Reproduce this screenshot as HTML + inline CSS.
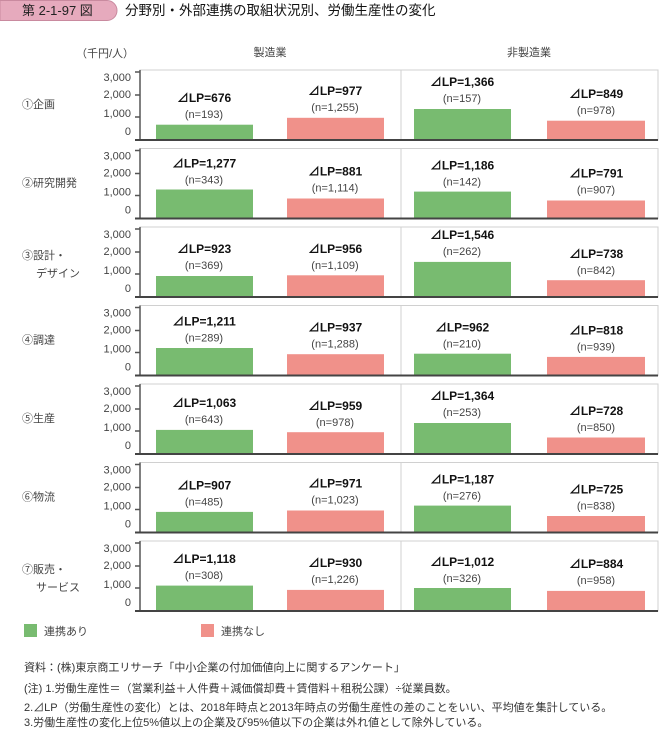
<!DOCTYPE html>
<html><head><meta charset="utf-8"><style>
body{margin:0;background:#fff;width:662px;height:729px;overflow:hidden}
svg{display:block;font-family:"Liberation Sans","Noto Sans CJK JP",sans-serif}
.t{font-size:11px;fill:#444}
.lp{font-size:12px;font-weight:bold;fill:#111;text-anchor:middle}
.n{font-size:11px;fill:#444;text-anchor:middle}
.yl{font-size:11px;fill:#444;text-anchor:end}
.g{fill:#78bb70}.r{fill:#f0918a}
</style></head><body>
<svg width="662" height="729" viewBox="0 0 662 729">
<path d="M0,0.5 H107 A10,10 0 0 1 107,20.5 H0 Z" fill="#e6aabd" stroke="#c98a9f"/>
<text x="22" y="15" font-size="13" fill="#222">第 2-1-97 図</text>
<text x="125" y="15" font-size="13.5" fill="#111">分野別・外部連携の取組状況別、労働生産性の変化</text>
<text x="76" y="57" class="t">（千円/人）</text>
<text x="270" y="56" class="t" text-anchor="middle">製造業</text>
<text x="529" y="56" class="t" text-anchor="middle">非製造業</text>

<defs>
<g id="ax">
<rect x="140" y="-70" width="518" height="70" fill="none" stroke="#d0d0d0"/>
<line x1="401" y1="-70" x2="401" y2="0" stroke="#d0d0d0"/>
<line x1="140" y1="-70" x2="140" y2="0" stroke="#555" stroke-width="1.5"/>
<path d="M135,-68H140M135,-45H140M135,-23H140" stroke="#555" stroke-width="1.5"/>
<text x="131" y="-59" class="yl">3,000</text>
<text x="131" y="-42" class="yl">2,000</text>
<text x="131" y="-23" class="yl">1,000</text>
<text x="131" y="-5" class="yl">0</text>
</g>
</defs>

<g transform="translate(0,140)"><use href="#ax"/>
<text x="22" y="-32" class="t" font-size="12">①企画</text>
<rect x="156" y="-15.3" width="97" height="15.3" class="g"/><text x="204" y="-38" class="lp">⊿LP=676</text><text x="204" y="-22" class="n">(n=193)</text>
<rect x="287" y="-22.2" width="97" height="22.2" class="r"/><text x="335" y="-45" class="lp">⊿LP=977</text><text x="335" y="-29" class="n">(n=1,255)</text>
<rect x="414" y="-31" width="97" height="31" class="g"/><text x="462" y="-54" class="lp">⊿LP=1,366</text><text x="462" y="-38" class="n">(n=157)</text>
<rect x="547" y="-19.3" width="98" height="19.3" class="r"/><text x="596" y="-42" class="lp">⊿LP=849</text><text x="596" y="-26" class="n">(n=978)</text>
<line x1="135" y1="0" x2="658" y2="0" stroke="#444" stroke-width="2"/></g>

<g transform="translate(0,218.5)"><use href="#ax"/>
<text x="22" y="-32" class="t" font-size="12">②研究開発</text>
<rect x="156" y="-29" width="97" height="29" class="g"/><text x="204" y="-51" class="lp">⊿LP=1,277</text><text x="204" y="-35" class="n">(n=343)</text>
<rect x="287" y="-20" width="97" height="20" class="r"/><text x="335" y="-43" class="lp">⊿LP=881</text><text x="335" y="-27" class="n">(n=1,114)</text>
<rect x="414" y="-26.9" width="97" height="26.9" class="g"/><text x="462" y="-49" class="lp">⊿LP=1,186</text><text x="462" y="-33" class="n">(n=142)</text>
<rect x="547" y="-18" width="98" height="18" class="r"/><text x="596" y="-41" class="lp">⊿LP=791</text><text x="596" y="-25" class="n">(n=907)</text>
<line x1="135" y1="0" x2="658" y2="0" stroke="#444" stroke-width="2"/></g>

<g transform="translate(0,297)"><use href="#ax"/>
<text x="22" y="-38" class="t" font-size="12">③設計・</text><text x="36" y="-20" class="t" font-size="12">デザイン</text>
<rect x="156" y="-21" width="97" height="21" class="g"/><text x="204" y="-44" class="lp">⊿LP=923</text><text x="204" y="-28" class="n">(n=369)</text>
<rect x="287" y="-21.7" width="97" height="21.7" class="r"/><text x="335" y="-44" class="lp">⊿LP=956</text><text x="335" y="-28" class="n">(n=1,109)</text>
<rect x="414" y="-35.1" width="97" height="35.1" class="g"/><text x="462" y="-58" class="lp">⊿LP=1,546</text><text x="462" y="-42" class="n">(n=262)</text>
<rect x="547" y="-16.8" width="98" height="16.8" class="r"/><text x="596" y="-39" class="lp">⊿LP=738</text><text x="596" y="-23" class="n">(n=842)</text>
<line x1="135" y1="0" x2="658" y2="0" stroke="#444" stroke-width="2"/></g>

<g transform="translate(0,375.5)"><use href="#ax"/>
<text x="22" y="-32" class="t" font-size="12">④調達</text>
<rect x="156" y="-27.5" width="97" height="27.5" class="g"/><text x="204" y="-50" class="lp">⊿LP=1,211</text><text x="204" y="-34" class="n">(n=289)</text>
<rect x="287" y="-21.3" width="97" height="21.3" class="r"/><text x="335" y="-44" class="lp">⊿LP=937</text><text x="335" y="-28" class="n">(n=1,288)</text>
<rect x="414" y="-21.8" width="97" height="21.8" class="g"/><text x="462" y="-44" class="lp">⊿LP=962</text><text x="462" y="-28" class="n">(n=210)</text>
<rect x="547" y="-18.6" width="98" height="18.6" class="r"/><text x="596" y="-41" class="lp">⊿LP=818</text><text x="596" y="-25" class="n">(n=939)</text>
<line x1="135" y1="0" x2="658" y2="0" stroke="#444" stroke-width="2"/></g>

<g transform="translate(0,454)"><use href="#ax"/>
<text x="22" y="-32" class="t" font-size="12">⑤生産</text>
<rect x="156" y="-24.1" width="97" height="24.1" class="g"/><text x="204" y="-47" class="lp">⊿LP=1,063</text><text x="204" y="-31" class="n">(n=643)</text>
<rect x="287" y="-21.8" width="97" height="21.8" class="r"/><text x="335" y="-44" class="lp">⊿LP=959</text><text x="335" y="-28" class="n">(n=978)</text>
<rect x="414" y="-31" width="97" height="31" class="g"/><text x="462" y="-54" class="lp">⊿LP=1,364</text><text x="462" y="-38" class="n">(n=253)</text>
<rect x="547" y="-16.5" width="98" height="16.5" class="r"/><text x="596" y="-39" class="lp">⊿LP=728</text><text x="596" y="-23" class="n">(n=850)</text>
<line x1="135" y1="0" x2="658" y2="0" stroke="#444" stroke-width="2"/></g>

<g transform="translate(0,532.5)"><use href="#ax"/>
<text x="22" y="-32" class="t" font-size="12">⑥物流</text>
<rect x="156" y="-20.6" width="97" height="20.6" class="g"/><text x="204" y="-43" class="lp">⊿LP=907</text><text x="204" y="-27" class="n">(n=485)</text>
<rect x="287" y="-22" width="97" height="22" class="r"/><text x="335" y="-45" class="lp">⊿LP=971</text><text x="335" y="-29" class="n">(n=1,023)</text>
<rect x="414" y="-26.9" width="97" height="26.9" class="g"/><text x="462" y="-49" class="lp">⊿LP=1,187</text><text x="462" y="-33" class="n">(n=276)</text>
<rect x="547" y="-16.5" width="98" height="16.5" class="r"/><text x="596" y="-39" class="lp">⊿LP=725</text><text x="596" y="-23" class="n">(n=838)</text>
<line x1="135" y1="0" x2="658" y2="0" stroke="#444" stroke-width="2"/></g>

<g transform="translate(0,611)"><use href="#ax"/>
<text x="22" y="-38" class="t" font-size="12">⑦販売・</text><text x="36" y="-20" class="t" font-size="12">サービス</text>
<rect x="156" y="-25.4" width="97" height="25.4" class="g"/><text x="204" y="-48" class="lp">⊿LP=1,118</text><text x="204" y="-32" class="n">(n=308)</text>
<rect x="287" y="-21.1" width="97" height="21.1" class="r"/><text x="335" y="-44" class="lp">⊿LP=930</text><text x="335" y="-28" class="n">(n=1,226)</text>
<rect x="414" y="-23" width="97" height="23" class="g"/><text x="462" y="-45" class="lp">⊿LP=1,012</text><text x="462" y="-29" class="n">(n=326)</text>
<rect x="547" y="-20.1" width="98" height="20.1" class="r"/><text x="596" y="-43" class="lp">⊿LP=884</text><text x="596" y="-27" class="n">(n=958)</text>
<line x1="135" y1="0" x2="658" y2="0" stroke="#444" stroke-width="2"/></g>

<rect x="24" y="624" width="13" height="13" class="g"/><text x="44" y="635" class="t">連携あり</text>
<rect x="201" y="624" width="13" height="13" class="r"/><text x="221" y="635" class="t">連携なし</text>

<g font-size="11" fill="#333">
<text x="24" y="671">資料：(株)東京商工リサーチ「中小企業の付加価値向上に関するアンケート」</text>
<text x="24" y="692">(注) 1.労働生産性＝（営業利益＋人件費＋減価償却費＋賃借料＋租税公課）÷従業員数。</text>
<text x="24" y="711">2.⊿LP（労働生産性の変化）とは、2018年時点と2013年時点の労働生産性の差のことをいい、平均値を集計している。</text>
<text x="24" y="729" dy="-3">3.労働生産性の変化上位5%値以上の企業及び95%値以下の企業は外れ値として除外している。</text>
</g>
</svg>
</body></html>
